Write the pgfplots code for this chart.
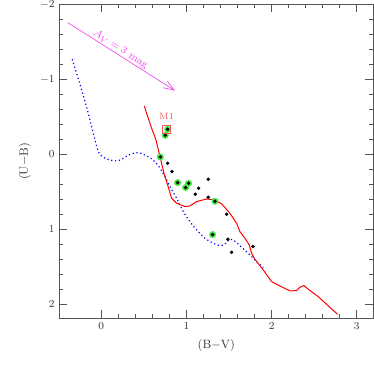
\documentclass[border=0pt]{standalone}
\usepackage{pgfplots}
\pgfplotsset{compat=1.18}
\usetikzlibrary{arrows.meta}
\definecolor{magline}{RGB}{240,70,240}
\definecolor{halo}{RGB}{70,230,70}
\definecolor{axgray}{RGB}{85,85,85}
\definecolor{boxred}{RGB}{240,90,90}
\begin{document}
\begin{tikzpicture}
\begin{axis}[
  scale only axis,
  width=235.5pt, height=235.5pt,
  xmin=-0.493, xmax=3.195,
  ymin=-2, ymax=2.187,
  y dir=reverse,
  xtick={0,1,2,3}, ytick={-2,-1,0,1,2},
  minor x tick num=4, minor y tick num=4,
  tick align=inside,
  major tick length=6pt, minor tick length=3pt,
  axis line style={axgray, line width=0.5pt},
  every tick/.style={axgray, line width=0.5pt},
  tick label style={font=\footnotesize, text=black!80},
  xlabel={(B$-$V)}, ylabel={(U$-$B)},
  label style={font=\small, text=black!80},
  clip=false,
]
% blue model sequence (dotted)
\addplot[blue, dotted, line width=0.9pt, smooth] coordinates {
  (-0.341,-1.267) (-0.290,-1.08) (-0.231,-0.858) (-0.164,-0.591)
  (-0.094,-0.28) (-0.035,-0.036) (0.023,0.04) (0.102,0.076)
  (0.180,0.089) (0.239,0.067) (0.317,0.013) (0.415,-0.022)
  (0.493,0.0) (0.591,0.062) (0.669,0.151) (0.748,0.298)
  (0.806,0.431) (0.885,0.587) (0.963,0.764) (1.041,0.898)
  (1.119,1.009) (1.217,1.12) (1.315,1.187) (1.393,1.218)
  (1.452,1.196) (1.511,1.133) (1.570,1.16) (1.648,1.24)
  (1.746,1.342) (1.824,1.431) (1.902,1.511)
};
% red sequence (solid)
\addplot[red, line width=0.75pt] coordinates {
  (0.505,-0.644) (0.532,-0.547) (0.591,-0.347) (0.642,-0.191)
  (0.689,0.031) (0.736,0.253) (0.779,0.409) (0.826,0.587)
  (0.885,0.653) (0.982,0.698) (1.041,0.689) (1.119,0.631)
  (1.237,0.596) (1.335,0.609) (1.413,0.662) (1.511,0.787)
  (1.589,0.920) (1.628,1.031) (1.687,1.120) (1.738,1.209)
  (1.765,1.320) (1.804,1.400) (1.902,1.542) (2.0,1.698)
  (2.098,1.756) (2.216,1.822) (2.294,1.818) (2.333,1.773)
  (2.380,1.751) (2.431,1.800) (2.548,1.898) (2.665,2.022)
  (2.775,2.133)
};
% green halos
\addplot[only marks, mark=*, mark size=2.4pt, halo, mark options={draw=halo, fill=halo}] coordinates {
  (0.779,-0.333) (0.751,-0.253) (0.693,0.036) (0.896,0.378)
  (0.990,0.444) (1.025,0.387) (1.335,0.627) (1.307,1.071)
};
% stars
\addplot[only marks, mark=*, mark size=1.1pt, black] coordinates {
  (0.779,-0.333) (0.751,-0.253) (0.693,0.036) (0.779,0.12)
  (0.830,0.231) (0.896,0.378) (0.990,0.444) (1.025,0.387)
  (1.143,0.453) (1.104,0.533) (1.256,0.333) (1.256,0.573)
  (1.335,0.627) (1.472,0.800) (1.307,1.071) (1.487,1.133)
  (1.530,1.307) (1.781,1.231)
};
% M1 box
\addplot[only marks, mark=square, mark size=3.3pt, boxred, mark options={line width=0.5pt}] coordinates {(0.763,-0.333)};
\node[boxred, font=\scriptsize] at (axis cs:0.767,-0.50) {M1};
% reddening vector
\addplot[magline, line width=0.5pt, -{Straight Barb[length=8pt,width=6pt]}] coordinates {(-0.395,-1.756) (0.865,-0.849)};
\node[magline, rotate=-32.4, font=\footnotesize, inner sep=0pt] at (axis cs:0.227,-1.40) {$A_V = 3$ mag};
\end{axis}
\pgfresetboundingbox
\path[use as bounding box] ([xshift=-44.5pt,yshift=-44.8pt]current axis.south west) rectangle ([xshift=0.5pt,yshift=3.2pt]current axis.north east);
\end{tikzpicture}
\end{document}
